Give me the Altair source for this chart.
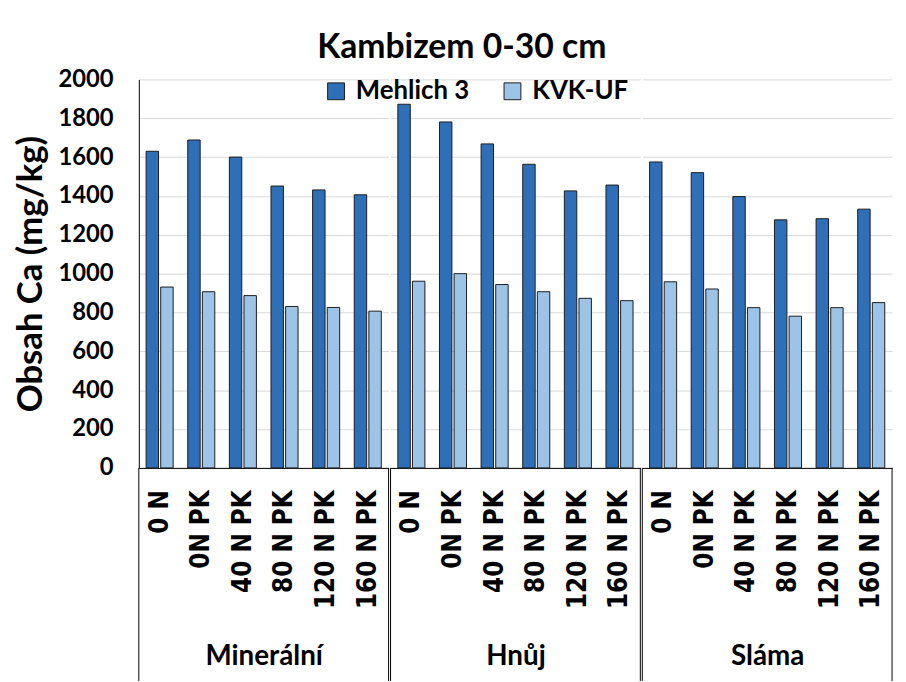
import altair as alt
import pandas as pd

groups = ["Minerální", "Hnůj", "Sláma"]
treatments = ["0 N", "0N PK", "40 N PK", "80 N PK", "120 N PK", "160 N PK"]
series = ["Mehlich 3", "KVK-UF"]
mehlich3 = [1630, 1688, 1600, 1451, 1431, 1406,
            1872, 1781, 1668, 1563, 1426, 1456,
            1575, 1520, 1397, 1277, 1283, 1332]
kvk_uf = [931, 907, 887, 831, 826, 807,
          961, 1000, 944, 907, 873, 861,
          958, 921, 825, 781, 825, 851]
y_ticks = list(range(0, 2001, 200))
colors = ["#2E6FB7", "#9DC3E6"]

rows = []
for gi, g in enumerate(groups):
    for ti, t in enumerate(treatments):
        i = gi * len(treatments) + ti
        rows.append({"group": g, "treatment": t, "series": series[0], "value": mehlich3[i]})
        rows.append({"group": g, "treatment": t, "series": series[1], "value": kvk_uf[i]})
df = pd.DataFrame(rows)

W, H = 252, 392
TF = "Lato"
XF = "DejaVu Sans Condensed"

legend = alt.Legend(orient="none", legendX=186, legendY=-1,
                    direction="horizontal", title=None,
                    symbolType="square", symbolSize=289,
                    symbolStrokeColor="#1c1c1c", symbolStrokeWidth=1,
                    labelFont=TF, labelFontSize=26,
                    labelFontWeight="bold", labelColor="black",
                    columnPadding=30, labelOffset=7)

y_first = alt.Axis(values=y_ticks, format="d", title="Obsah Ca  (mg/kg)",
                   titleFont=TF, titleFontSize=35, titleFontWeight="bold",
                   titleColor="black", titlePadding=10,
                   labelFont=TF, labelFontSize=24, labelFontWeight="bold",
                   labelColor="black", labelPadding=26, ticks=False,
                   domainColor="black", domainWidth=1,
                   gridColor="#D9D9D9", gridWidth=1)
y_other = alt.Axis(values=y_ticks, labels=False, ticks=False, domain=False,
                   title=None, gridColor="#D9D9D9", gridWidth=1)

sep_filter = (alt.datum.treatment == treatments[0]) & (alt.datum.series == series[0])

panels = []
for gi, g in enumerate(groups):
    base = alt.Chart(df).transform_filter(alt.datum.group == g)
    bars = base.mark_bar(stroke="#1c1c1c", strokeWidth=1).encode(
        x=alt.X("treatment:N", sort=treatments, title=g,
                scale=alt.Scale(paddingInner=0.35, paddingOuter=0.175),
                axis=alt.Axis(labelAngle=-90, labelFont=XF, labelFontSize=26,
                              labelFontWeight="bold", labelColor="black",
                              ticks=False, domainColor="black", domainWidth=1,
                              labelPadding=22, labelLimit=0, grid=False,
                              titleFont=TF, titleFontSize=28, titleFontWeight="bold",
                              titleColor="black", titlePadding=34)),
        xOffset=alt.XOffset("series:N", sort=series, scale=alt.Scale(paddingInner=0.15)),
        y=alt.Y("value:Q", scale=alt.Scale(domain=[0, 2000], nice=False),
                axis=y_first if gi == 0 else y_other),
        color=alt.Color("series:N", sort=series,
                        scale=alt.Scale(domain=series, range=colors),
                        legend=legend),
    )
    sep_left = base.transform_filter(sep_filter).mark_rule(color="black", strokeWidth=1).encode(
        x=alt.value(0), y=alt.value(H), y2=alt.value(H + 215))
    sep_right = base.transform_filter(sep_filter).mark_rule(color="black", strokeWidth=1).encode(
        x=alt.value(W), y=alt.value(H), y2=alt.value(H + 215))
    panels.append(alt.layer(bars, sep_left, sep_right).properties(width=W, height=H))

chart = alt.hconcat(*panels, spacing=0).resolve_scale(
    y="shared", x="independent", color="shared"
).properties(
    title=alt.TitleParams("Kambizem 0-30 cm", font=TF, fontSize=34,
                          fontWeight="bold", color="black", anchor="middle",
                          offset=3, dx=9),
    padding={"left": 5, "top": 20, "right": 5, "bottom": 0},
).configure_view(stroke=None)

chart.save("out.html", embed_options={"renderer": "svg", "actions": False})
